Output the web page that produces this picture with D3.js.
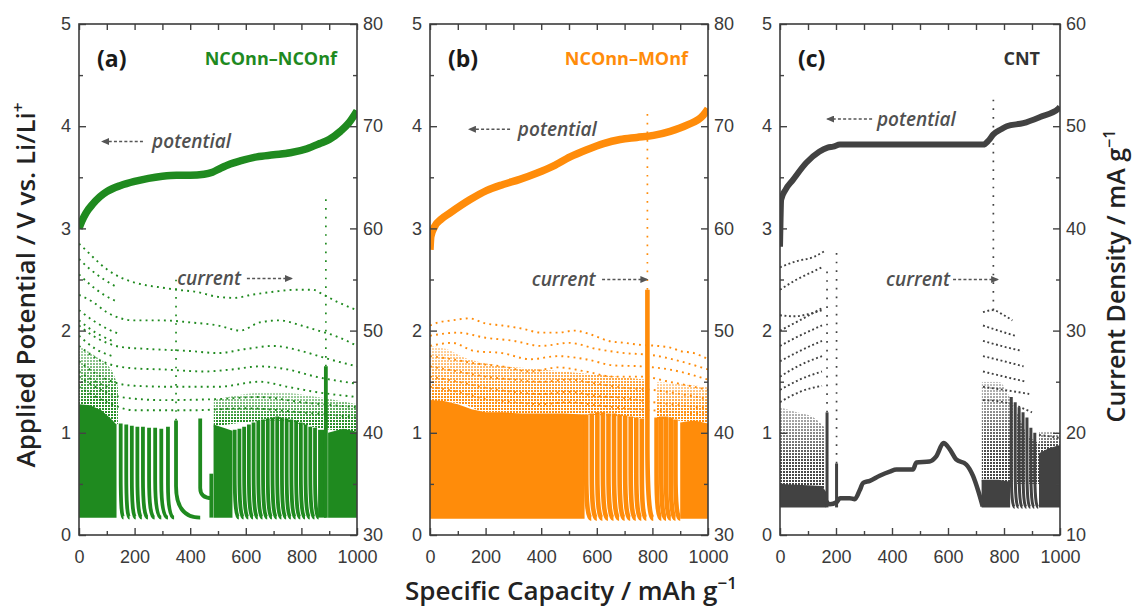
<!DOCTYPE html>
<html><head><meta charset="utf-8">
<script src="https://cdn.jsdelivr.net/npm/d3@7"></script>
<style>
body{margin:0;background:#fff}
text{font-family:"Liberation Sans",Arial,sans-serif}
</style>
</head><body>
<svg id="chart" width="1133" height="608"></svg>
<script>
// ---------- tick labels ----------
const capacityTicks = [0, 200, 400, 600, 800, 1000];
const capacityMinor = [100, 300, 500, 700, 900];
const potentialTicks = [0, 1, 2, 3, 4, 5];
const potentialMinor = [0.5, 1.5, 2.5, 3.5, 4.5];
const currentTicksAB = [30, 40, 50, 60, 70, 80];
const currentMinorAB = [35, 45, 55, 65, 75];
const currentTicksC = [10, 20, 30, 40, 50, 60];
const currentMinorC = [15, 25, 35, 45, 55];

// ---------- potential (V) vs capacity (mAh/g) ----------
const potentialA = [[0,3.0],[10,3.07],[25,3.15],[50,3.24],[75,3.31],[100,3.36],[150,3.42],[200,3.46],[250,3.49],[300,3.51],[350,3.52],[400,3.52],[450,3.53],[480,3.55],[510,3.59],[544,3.63],[580,3.66],[640,3.70],[700,3.72],[760,3.74],[820,3.78],[866,3.83],[900,3.87],[940,3.95],[970,4.03],[1000,4.15]];
const potentialB = [[0,2.79],[3,2.92],[17,3.02],[40,3.09],[71,3.15],[143,3.28],[203,3.37],[263,3.43],[323,3.48],[383,3.54],[443,3.61],[504,3.70],[564,3.77],[624,3.83],[684,3.87],[744,3.89],[804,3.91],[864,3.95],[924,4.01],[984,4.11],[1000,4.17]];
const potentialC = [[0,2.82],[2,3.1],[4,3.28],[20,3.38],[45,3.47],[93,3.64],[140,3.75],[170,3.79],[190,3.80],[214,3.82],[400,3.82],[600,3.82],[726,3.82],[745,3.86],[762,3.92],[790,3.97],[810,4.0],[869,4.03],[929,4.09],[994,4.17],[1000,4.19]];

// ---------- current density (mA/g) ----------
const floorA = 31.7, floorB = 31.6, floorC = 12.7;
// dense blocks: [capacity, top current]
const denseA = [
  [[0,42.8],[40,42.7],[80,42.2],[110,41.5],[135,40.8]],
  [[484,40.8],[520,40.5],[552,40.2]],
  [[860,40.3],[888,40.3]],
  [[896,40.0],[950,40.4],[1000,40.1]]
];
const denseB = [
  [[0,43.2],[50,43.1],[100,42.8],[150,42.3],[200,42.0],[260,42.0],[330,41.9],[400,41.9],[480,41.9],[556,41.8]],
  [[900,41.0],[950,41.2],[1000,40.9]]
];
const denseC = [
  [[0,15.0],[80,14.9],[150,14.8],[165,14.2]],
  [[720,15.4],[780,15.4],[822,15.2]],
  [[925,18.0],[960,18.5],[1000,18.8]]
];
// fading point clouds: [capacity, low, high]
const cloudA = [
  [[0,42.6,48.5],[60,42.4,47.5],[120,41.2,46.0],[140,40.8,44.5]],
  [[484,40.6,43.2],[700,41.2,44.0],[880,40.4,43.4],[1000,40.0,42.8]]
];
const cloudB = [
  [[0,43.0,48.5],[60,43.0,48.2],[120,42.8,47.4],[200,42.0,46.8],[400,41.9,46.2],[556,41.8,45.8],[780,41.4,45.2]],
  [[815,41.4,45.0],[1000,40.9,44.5]]
];
const cloudC = [
  [[0,14.8,22.5],[60,14.8,22.0],[120,14.7,21.5],[160,14.5,20.5]],
  [[720,15.2,25.0],[780,15.2,25.0],[830,15.0,23.0],[880,15.0,20.0],[925,15.0,19.0]],
  [[925,18.0,20.2],[1000,18.8,20.0]]
];
// streaks: [capacity, top, bend, tail capacity, tail end]
const streaksA = [
  [150,40.9,36.0,160,31.7],[170,40.8,36.0,182,31.7],[190,40.7,35.8,204,31.7],[210,40.6,35.8,226,31.7],
  [230,40.6,35.6,248,31.7],[252,40.5,35.6,272,31.7],[274,40.5,35.4,296,31.7],[296,40.4,35.2,320,31.7],
  [320,40.6,35.0,342,31.7],[349,41.2,34.8,436,31.7],[436,41.4,34.6,478,33.6],[476,36.0,36.0,476,31.7],
  [560,40.3,36.0,575,31.7],[577,40.4,36.0,592,31.7],[594,40.6,36.0,609,31.7],[611,40.8,36.0,626,31.7],
  [628,41.0,36.0,643,31.7],[645,41.2,36.0,660,31.7],[662,41.3,36.0,677,31.7],[679,41.4,36.0,694,31.7],
  [696,41.5,36.0,711,31.7],[713,41.6,36.0,728,31.7],[730,41.5,36.0,745,31.7],[747,41.4,36.0,762,31.7],
  [764,41.3,36.0,779,31.7],[781,41.2,36.0,796,31.7],[798,41.0,36.0,813,31.7],[815,40.8,36.0,830,31.7],
  [832,40.6,36.0,847,31.7],[849,40.5,36.0,862,31.7],[888,46.5,31.7,888,31.7]
];
const streaksB = [
  [562,41.8,36.0,580,31.6],[582,41.9,36.0,600,31.6],[602,42.0,36.0,620,31.6],[622,42.0,36.0,640,31.6],
  [642,41.9,36.0,660,31.6],[662,41.9,36.0,680,31.6],[682,41.8,36.0,700,31.6],[702,41.7,36.0,720,31.6],
  [722,41.6,36.0,740,31.6],[742,41.5,36.0,760,31.6],[762,41.4,36.0,778,31.6],[782,54.0,39.3,803,31.6],
  [815,41.5,36.0,832,31.6],[832,41.6,36.0,849,31.6],[849,41.6,36.0,866,31.6],[866,41.5,36.0,883,31.6],
  [883,41.3,36.0,900,31.6]
];
const streaksC = [
  [168,22.0,12.7,168,12.7],[202,17.0,12.7,202,12.7],
  [826,23.5,16.5,838,12.7],[840,23.0,16.5,852,12.7],[854,22.5,16.5,866,12.7],[868,22.0,16.5,880,12.7],
  [882,21.5,16.5,894,12.7],[896,20.5,16.5,908,12.7],[910,20.0,16.5,922,12.7]
];
// sparse columns of points: [capacity, from, to]
const columnsA = [[888,46.5,63.0],[349,41.2,55.0]];
const columnsB = [[782,54.0,71.3]];
const columnsC = [[168,22.0,36.0],[202,17.0,38.0],[762,32.0,53.0]];
// sparse rows of points: [capacity, current]
const rowsA = [
  [[0,58.5],[20,58.0],[50,57.2],[100,56.0],[150,55.2],[200,54.7],[250,54.4],[300,54.2],[350,54.0],[420,53.8],[500,53.3],[560,53.2],[620,53.5],[700,53.8],[780,54.0],[840,54.0],[880,53.5],[930,52.8],[1000,52.0]],
  [[0,53.5],[50,52.8],[100,51.8],[150,51.2],[200,51.0],[300,51.0],[400,50.8],[500,50.5],[580,50.0],[650,50.8],[720,51.0],[800,50.5],[860,50.0],[920,49.5],[1000,48.5]],
  [[0,50.5],[50,49.5],[100,48.8],[150,48.4],[250,48.2],[400,48.0],[500,47.8],[600,48.2],[700,48.5],[800,48.0],[900,47.2],[1000,46.5]],
  [[0,48.5],[50,47.5],[100,46.8],[200,46.3],[300,46.2],[450,46.0],[550,46.2],[650,46.5],[750,46.2],[850,45.5],[1000,44.8]],
  [[0,47.0],[60,45.8],[120,45.0],[200,44.6],[350,44.5],[500,44.5],[650,45.0],[750,44.5],[850,44.0],[1000,43.5]],
  [[0,45.5],[80,44.2],[150,43.5],[300,43.2],[500,43.3],[650,43.5],[800,43.0],[1000,42.5]],
  [[0,44.5],[100,43.0],[200,42.2],[400,42.2],[600,42.4],[800,42.0],[1000,41.5]],
  [[0,57.0],[40,56.0],[90,55.0],[140,54.2]],
  [[0,55.5],[40,54.5],[90,53.5],[140,52.8]],
  [[0,52.0],[50,51.0],[100,50.2],[150,49.6]],
  [[0,51.0],[60,49.8],[120,49.0]],
  [[0,49.5],[60,48.2],[120,47.5]],
  [[0,46.0],[60,45.0],[120,44.3]]
];
const rowsB = [
  [[0,50.5],[30,50.8],[80,51.0],[140,51.2],[200,50.7],[260,50.5],[330,50.2],[400,49.8],[460,49.8],[520,50.0],[580,49.6],[640,49.0],[700,48.8],[760,48.6],[820,48.5],[870,48.3],[900,48.0],[950,47.8],[1000,47.2]],
  [[0,49.5],[100,49.8],[200,49.3],[300,49.0],[400,48.5],[500,48.8],[600,48.2],[700,47.8],[800,47.6],[900,47.0],[1000,46.2]],
  [[0,48.5],[80,48.8],[160,48.0],[260,47.8],[360,47.2],[460,47.5],[560,47.2],[660,46.6],[760,46.5],[860,46.2],[1000,45.2]],
  [[0,47.5],[80,47.2],[160,46.8],[260,46.5],[360,46.0],[460,46.4],[560,46.0],[660,45.5],[760,45.5],[860,45.0],[1000,44.2]],
  [[0,46.5],[100,46.0],[200,45.5],[300,45.2],[400,45.0],[500,45.2],[600,44.8],[700,44.4],[800,44.2],[900,43.8],[1000,43.3]],
  [[0,45.5],[100,45.0],[200,44.4],[300,44.0],[400,43.8],[500,44.0],[600,43.6],[700,43.4],[800,43.0],[900,42.7],[1000,42.4]],
  [[0,44.5],[100,44.0],[200,43.3],[300,43.0],[400,42.8],[500,43.0],[600,42.7],[700,42.4],[800,42.2],[1000,41.8]]
];
const rowsC = [
  [[0,36.2],[60,36.8],[120,37.2],[160,37.8]],
  [[0,34.0],[60,35.0],[120,35.8],[150,36.2]],
  [[0,31.5],[50,31.4],[100,31.6],[150,32.0]],
  [[0,30.0],[70,31.0],[150,32.2]],
  [[0,28.5],[70,29.5],[150,30.5]],
  [[0,27.0],[70,28.0],[150,29.0]],
  [[0,25.5],[70,26.6],[150,27.5]],
  [[0,24.2],[70,25.2],[150,26.0]],
  [[0,23.0],[70,24.0],[150,24.6]],
  [[725,31.8],[760,32.0],[800,31.5],[830,31.0]],
  [[725,30.5],[780,30.0],[840,29.5]],
  [[725,29.0],[790,28.5],[865,28.0]],
  [[725,27.5],[800,27.0],[870,26.5]],
  [[725,26.0],[800,25.5],[880,25.0]],
  [[725,24.5],[800,24.2],[890,23.8]],
  [[725,23.2],[800,23.0],[900,22.0]],
  [[925,19.8],[1000,19.5]]
];
// thick current trace in (c)
const currentLineC = [[160,13.5],[178,13.0],[202,13.2],[214,13.6],[249,13.6],[267,13.5],[285,14.4],[297,15.1],[321,15.3],[356,15.8],[392,16.2],[416,16.4],[475,16.4],[487,17.1],[534,17.2],[558,17.7],[584,19.0],[606,18.4],[629,17.4],[665,16.9],[689,15.8],[707,14.4],[724,12.8]];

// annotations: [text, capacity, potential, arrow from, arrow to]
const notesA = [["potential",263,3.85,230,83],["current",353,2.51,604,766]];
const notesB = [["potential",316,3.97,288,140],["current",366,2.5,619,782]];
const notesC = [["potential",346,4.07,329,168],["current",379,2.5,618,779]];

const panelLabels = ["(a)","(b)","(c)"];
const sampleNames = ["NCOnn–NCOnf","NCOnn–MOnf","CNT"];

// ---------- layout ----------
const yTop = 24, yBot = 535;
const panels = [
  {key:"a", x0:79, x1:357, color:"#1f8a1f", nameColor:"#1f8a1f", right:[30,80], rTicks:currentTicksAB, rMinor:currentMinorAB,
   potential:potentialA, dense:denseA, floor:floorA, cloud:cloudA, streaks:streaksA, columns:columnsA, rows:rowsA, notes:notesA, sw:3.8},
  {key:"b", x0:430, x1:708, color:"#ff8c0a", nameColor:"#ff8c0a", right:[30,80], rTicks:currentTicksAB, rMinor:currentMinorAB,
   potential:potentialB, dense:denseB, floor:floorB, cloud:cloudB, streaks:streaksB, columns:columnsB, rows:rowsB, notes:notesB, sw:4.6},
  {key:"c", x0:780, x1:1060, color:"#424242", nameColor:"#333", right:[10,60], rTicks:currentTicksC, rMinor:currentMinorC,
   potential:potentialC, dense:denseC, floor:floorC, cloud:cloudC, streaks:streaksC, columns:columnsC, rows:rowsC, notes:notesC, sw:3.0}
];

const svg = d3.select("#chart");
const defs = svg.append("defs");
defs.append("marker").attr("id","arrow").attr("viewBox","0 0 8 7").attr("refX",7).attr("refY",3.5)
  .attr("markerWidth",8).attr("markerHeight",7).attr("markerUnits","userSpaceOnUse").attr("orient","auto")
  .append("path").attr("d","M0,0L8,3.5L0,7Z").attr("fill","#555");
// fade mask (bottom opaque -> top faint)
const fg = defs.append("linearGradient").attr("id","fadeGrad").attr("x1",0).attr("y1",1).attr("x2",0).attr("y2",0);
fg.append("stop").attr("offset",0).attr("stop-color","#fff");
fg.append("stop").attr("offset",0.35).attr("stop-color","#eee");
fg.append("stop").attr("offset",1).attr("stop-color","#555");
defs.append("mask").attr("id","fade").attr("maskContentUnits","objectBoundingBox")
  .append("rect").attr("width",1).attr("height",1).attr("fill","url(#fadeGrad)");

const fmt = d3.format("d");

panels.forEach((p, i) => {
  const x = d3.scaleLinear().domain([0,1000]).range([p.x0, p.x1]);
  const yL = d3.scaleLinear().domain([0,5]).range([yBot, yTop]);
  const yR = d3.scaleLinear().domain(p.right).range([yBot, yTop]);
  const g = svg.append("g");

  defs.append("clipPath").attr("id","clip-"+p.key).append("rect")
    .attr("x",p.x0).attr("y",yTop).attr("width",p.x1-p.x0).attr("height",yBot-yTop);
  const pat = defs.append("pattern").attr("id","dots-"+p.key).attr("patternUnits","userSpaceOnUse")
    .attr("width",3).attr("height",3);
  pat.append("rect").attr("width",2).attr("height",2).attr("fill",p.color);

  const plot = g.append("g").attr("clip-path","url(#clip-"+p.key+")");

  // fading clouds of points
  plot.selectAll("path.cloud").data(p.cloud).join("path").attr("class","cloud")
    .attr("d", d3.area().x(d=>x(d[0])).y0(d=>yR(d[1])).y1(d=>yR(d[2])).curve(d3.curveMonotoneX))
    .attr("fill","url(#dots-"+p.key+")").attr("mask","url(#fade)");
  // sparse rows
  plot.selectAll("path.row").data(p.rows).join("path").attr("class","row")
    .attr("d", d3.line().x(d=>x(d[0])).y(d=>yR(d[1])).curve(d3.curveMonotoneX))
    .attr("fill","none").attr("stroke",p.color).attr("stroke-width",1.9)
    .attr("stroke-dasharray", p.key==="c" ? "1.9 2.6" : "1.9 4.2");
  // sparse columns
  plot.selectAll("line.col").data(p.columns).join("line").attr("class","col")
    .attr("x1",d=>x(d[0])).attr("x2",d=>x(d[0])).attr("y1",d=>yR(d[1])).attr("y2",d=>yR(d[2]))
    .attr("stroke",p.color).attr("stroke-width",1.7).attr("stroke-dasharray","1.7 7");
  // dense blocks
  plot.selectAll("path.dense").data(p.dense).join("path").attr("class","dense")
    .attr("d", d3.area().x(d=>x(d[0])).y0(yR(p.floor)).y1(d=>yR(d[1])))
    .attr("fill",p.color);
  // streaks
  plot.selectAll("path.streak").data(p.streaks).join("path").attr("class","streak")
    .attr("d", d => {
      const pa = d3.path();
      pa.moveTo(x(d[0]), yR(d[1]));
      pa.lineTo(x(d[0]), yR(d[2]));
      pa.quadraticCurveTo(x(d[0]), yR(d[4]), x(d[3]), yR(d[4]));
      return pa.toString();
    })
    .attr("fill","none").attr("stroke",p.color).attr("stroke-width",p.sw);
  if (p.key === "c") {
    plot.append("path").datum(currentLineC)
      .attr("d", d3.line().x(d=>x(d[0])).y(d=>yR(d[1])).curve(d3.curveMonotoneX))
      .attr("fill","none").attr("stroke",p.color).attr("stroke-width",4.5);
  }
  // potential
  plot.append("path").datum(p.potential)
    .attr("d", d3.line().x(d=>x(d[0])).y(d=>yL(d[1])).curve(d3.curveMonotoneX))
    .attr("fill","none").attr("stroke",p.color).attr("stroke-width", p.key==="c" ? 6 : 7.5);

  // axes
  const styleAxis = sel => {
    sel.select(".domain").remove();
    sel.selectAll(".tick line").attr("stroke","#444").attr("stroke-width",1.4);
    sel.selectAll(".tick text").attr("fill","#3a3a3a").style("font-size","18px")
      .style("font-family","'Liberation Sans', Arial, sans-serif");
  };
  g.append("g").attr("transform",`translate(0,${yBot})`)
    .call(d3.axisBottom(x).tickValues(capacityTicks).tickFormat(fmt).tickSizeInner(-7).tickSizeOuter(0).tickPadding(15)).call(styleAxis);
  g.append("g").attr("transform",`translate(0,${yBot})`)
    .call(d3.axisBottom(x).tickValues(capacityMinor).tickSizeInner(-4).tickSizeOuter(0).tickFormat("")).call(styleAxis);
  g.append("g").attr("transform",`translate(0,${yTop})`)
    .call(d3.axisTop(x).tickValues(capacityTicks.concat(capacityMinor)).tickSizeInner(-6).tickSizeOuter(0).tickFormat("")).call(styleAxis);
  g.append("g").attr("transform",`translate(${p.x0},0)`)
    .call(d3.axisLeft(yL).tickValues(potentialTicks).tickFormat(fmt).tickSizeInner(-7).tickSizeOuter(0).tickPadding(8)).call(styleAxis);
  g.append("g").attr("transform",`translate(${p.x0},0)`)
    .call(d3.axisLeft(yL).tickValues(potentialMinor).tickSizeInner(-4).tickSizeOuter(0).tickFormat("")).call(styleAxis);
  g.append("g").attr("transform",`translate(${p.x1},0)`)
    .call(d3.axisRight(yR).tickValues(p.rTicks).tickFormat(fmt).tickSizeInner(-7).tickSizeOuter(0).tickPadding(6)).call(styleAxis);
  g.append("g").attr("transform",`translate(${p.x1},0)`)
    .call(d3.axisRight(yR).tickValues(p.rMinor).tickSizeInner(-4).tickSizeOuter(0).tickFormat("")).call(styleAxis);

  g.append("rect").attr("x",p.x0).attr("y",yTop).attr("width",p.x1-p.x0).attr("height",yBot-yTop)
    .attr("fill","none").attr("stroke","#3c3c3c").attr("stroke-width",1.6);

  // panel label and sample name
  g.append("text").attr("x",p.x0+18).attr("y",67).text(panelLabels[i])
    .style("font-family","'Open Sans', sans-serif").style("font-weight",700).style("font-size","23px").attr("fill","#1a1a1a");
  g.append("text").attr("x",p.x1-20).attr("y",65).attr("text-anchor","end").text(sampleNames[i])
    .style("font-family","'Open Sans', sans-serif").style("font-weight",700).style("font-size","18px").attr("fill",p.nameColor);

  // annotations
  p.notes.forEach(n => {
    const yy = yL(n[2]);
    g.append("text").attr("x",x(n[1])).attr("y",yy).attr("dy","0.35em").text(n[0])
      .style("font-family","'Open Sans', sans-serif").style("font-style","italic").style("font-weight",600)
      .style("font-size","19px").attr("fill","#505050");
    g.append("line").attr("x1",x(n[3])).attr("x2",x(n[4])).attr("y1",yy).attr("y2",yy)
      .attr("stroke","#555").attr("stroke-width",1.4).attr("stroke-dasharray","3 2.2").attr("marker-end","url(#arrow)");
  });
});

// axis titles
const tfont = "'Open Sans', sans-serif";
const xt = svg.append("text").attr("x",571).attr("y",600).attr("text-anchor","middle")
  .style("font-family",tfont).style("font-size","26px").style("font-weight",600).attr("fill","#222");
xt.append("tspan").text("Specific Capacity / mAh g");
xt.append("tspan").attr("dy",-11).style("font-size","17px").text("−1");

const yt = svg.append("text").attr("transform","translate(35,285) rotate(-90)").attr("text-anchor","middle")
  .style("font-family",tfont).style("font-size","26px").style("font-weight",600).attr("fill","#222");
yt.append("tspan").text("Applied Potential / V vs. Li/Li");
yt.append("tspan").attr("dy",-11).style("font-size","17px").text("+");

const rt = svg.append("text").attr("transform","translate(1125,276) rotate(-90)").attr("text-anchor","middle")
  .style("font-family",tfont).style("font-size","25px").style("font-weight",600).attr("fill","#222");
rt.append("tspan").text("Current Density / mA g");
rt.append("tspan").attr("dy",-10).style("font-size","16px").text("−1");
</script>
</body></html>
